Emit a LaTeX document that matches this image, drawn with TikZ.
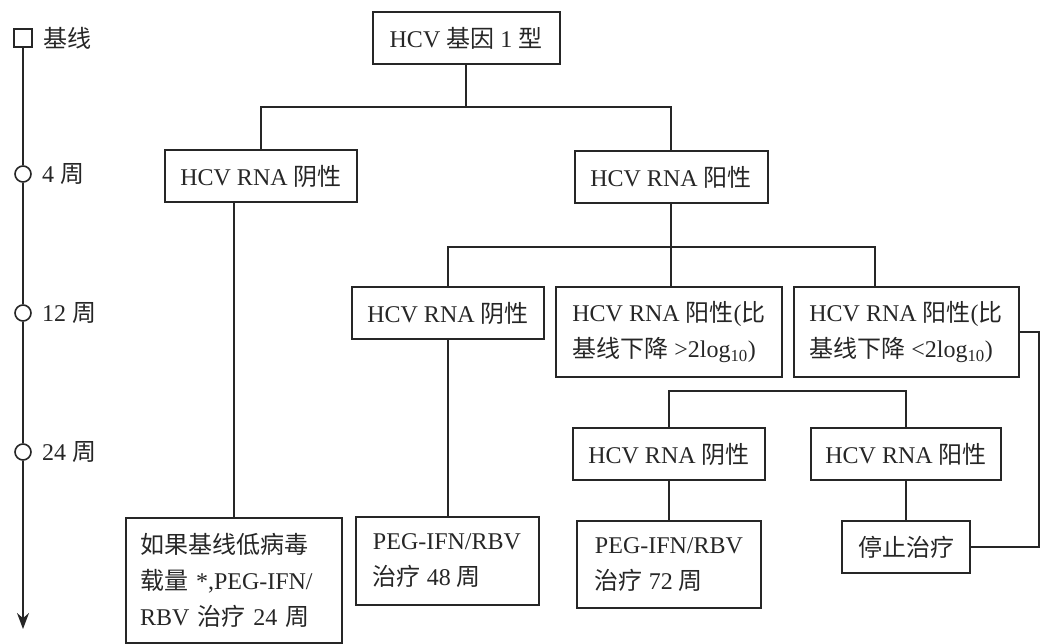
\documentclass[tikz,border=0pt]{standalone}
\usepackage{fontspec}
\setmainfont{Liberation Serif}
\newfontfamily\cjk{Noto Sans CJK SC}
\usetikzlibrary{positioning, arrows.meta}
\definecolor{ink}{HTML}{262626}
\tikzset{
    box/.style={draw, line width=2pt, minimum height=52pt, inner xsep=12pt, align=left, font=\fontsize{24}{36}\selectfont},
    tick/.style={draw, line width=1.6pt, fill=white, inner sep=0pt, minimum size=16pt},
    week/.style={inner sep=0pt, font=\fontsize{24}{30}\selectfont},
    link/.style={line width=2pt}
}
\begin{document}
\begin{tikzpicture}[x=1pt, y=-1pt, color=ink]
    \useasboundingbox (0,0) rectangle (1044,644);

    % timeline
    \node[tick, minimum size=18pt] (b0) at (23,38) {};
    \node[tick, circle] (w4) at (23,174) {};
    \node[tick, circle] (w12) at (23,313) {};
    \node[tick, circle] (w24) at (23,452) {};
    \coordinate (wend) at (23,629);
    \node[week, right=10pt of b0] (l0) {{\cjk 基线}};
    \node[week, right=10pt of w4] (l4) {4 {\cjk 周}};
    \node[week, right=10pt of w12] (l12) {12 {\cjk 周}};
    \node[week, right=10pt of w24] (l24) {24 {\cjk 周}};
    \draw[link, line width=1.6pt] (b0) -- (w4) (w4) -- (w12) (w12) -- (w24);
    \draw[link, line width=1.6pt, -{Stealth[length=16pt, width=12pt]}] (w24) -- (wend);

    % boxes
    \node[box, minimum width=187pt] (gene) at (466,38) {HCV {\cjk 基因} 1 {\cjk 型}};
    \node[box, minimum width=192pt] (neg4) at (261,176) {HCV RNA {\cjk 阴性}};
    \node[box, minimum width=193pt] (pos4) at (671,177) {HCV RNA {\cjk 阳性}};
    \node[box, minimum width=192pt] (neg12) at (448,313) {HCV RNA {\cjk 阴性}};
    \node[box, minimum width=226pt, minimum height=90pt] (up12) at (669,332) {HCV RNA {\cjk 阳性}({\cjk 比}\\{\cjk 基线下降} >2log\textsubscript{10})};
    \node[box, minimum width=225pt, minimum height=90pt] (down12) at (906,332) {HCV RNA {\cjk 阳性}({\cjk 比}\\{\cjk 基线下降} <2log\textsubscript{10})};
    \node[box, minimum width=192pt] (neg24) at (669,454) {HCV RNA {\cjk 阴性}};
    \node[box, minimum width=190pt] (pos24) at (906,454) {HCV RNA {\cjk 阳性}};
    \node[box, minimum width=184pt, minimum height=87pt, below=39pt of neg24] (t72) {PEG-IFN/RBV\\{\cjk 治疗} 72 {\cjk 周}};
    \node[box, minimum width=128pt, below=39pt of pos24] (stop) {{\cjk 停止治疗}};
    \node[box, minimum width=183pt, minimum height=88pt] (t48) at (447,561) {PEG-IFN/RBV\\{\cjk 治疗} 48 {\cjk 周}};
    \node[box, text width=188pt, inner xsep=14pt, minimum height=125pt] (low) at (234,580) {{\cjk 如果基线低病毒}\\{\cjk 载量} *,PEG-IFN/\\RBV {\cjk 治疗} 24 {\cjk 周}};

    % connectors
    \coordinate (s1) at (466,107);
    \coordinate (s4) at (671,247);
    \coordinate (e4) at (875,247);
    \coordinate (s12) at (669,391);
    \draw[link] (gene) -- (s1);
    \draw[link] (neg4.north) |- (s1) -| (pos4.north);
    \draw[link] (low.north |- neg4.south) -- (low.north);
    \draw[link] (pos4) -- (s4);
    \draw[link] (neg12.north) |- (e4) -- (e4 |- down12.north);
    \draw[link] (s4) -- (s4 |- up12.north);
    \draw[link] (neg12.south) -- (neg12.south |- t48.north);
    \draw[link] (neg24.north) |- (s12) -| (pos24.north);
    \draw[link] (neg24) -- (t72);
    \draw[link] (pos24) -- (stop);
    \draw[link] (down12.east) -- ++(19,0) |- (stop.east);
\end{tikzpicture}
\end{document}
